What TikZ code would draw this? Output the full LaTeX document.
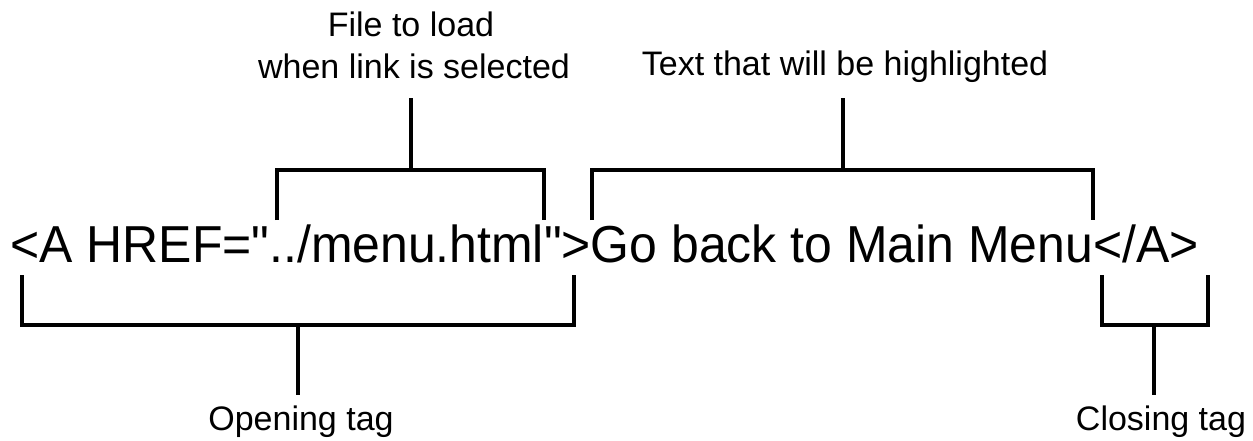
\documentclass[tikz,border=0pt]{standalone}
\usepackage{fontspec}
\setmainfont{Liberation Sans}
\newfontfamily\codefont[FakeStretch=0.96]{Liberation Sans}
\begin{document}
\begin{tikzpicture}[x=1pt,y=-1pt,
  bracket/.style={draw=black,line width=3.3pt,line join=miter},
  label/.style={inner sep=0pt,anchor=base,font=\fontsize{34}{40}\selectfont},
  code/.style={inner sep=0pt,anchor=base,font=\codefont\fontsize{52}{60}\selectfont}]
\useasboundingbox (0,0) rectangle (1253,440);
% main line of code
\node[code] (code) at (604.5,262) {<A HREF=\symbol{34}../menu.html\symbol{34}>Go back to Main Menu</A>};
% labels
\node[label] (file1) at (411,36) {File to load};
\node[label] (file2) at (414,78) {when link is selected};
\node[label] (text) at (845,75) {Text that will be highlighted};
\node[label] (open) at (301,430) {Opening tag};
\node[label] (close) at (1161,430) {Closing tag};
% bracket points
\coordinate (b1l) at (277,220); \coordinate (b1r) at (544,220);
\coordinate (b1m) at (411,170); \coordinate (s1) at (411,98);
\coordinate (b2l) at (592,220); \coordinate (b2r) at (1093,220);
\coordinate (b2m) at (843,170); \coordinate (s2) at (843,98);
\coordinate (b3l) at (22,275); \coordinate (b3r) at (574,275);
\coordinate (b3m) at (298,325); \coordinate (s3) at (298,395);
\coordinate (b4l) at (1102,275); \coordinate (b4r) at (1208,275);
\coordinate (b4m) at (1154,325); \coordinate (s4) at (1154,395);
% top brackets
\draw[bracket] (b1l) -- (b1l |- b1m) -- (b1r |- b1m) -- (b1r);
\draw[bracket] (b1m) -- (s1);
\draw[bracket] (b2l) -- (b2l |- b2m) -- (b2r |- b2m) -- (b2r);
\draw[bracket] (b2m) -- (s2);
% bottom brackets
\draw[bracket] (b3l) -- (b3l |- b3m) -- (b3r |- b3m) -- (b3r);
\draw[bracket] (b3m) -- (s3);
\draw[bracket] (b4l) -- (b4l |- b4m) -- (b4r |- b4m) -- (b4r);
\draw[bracket] (b4m) -- (s4);
\end{tikzpicture}
\end{document}
